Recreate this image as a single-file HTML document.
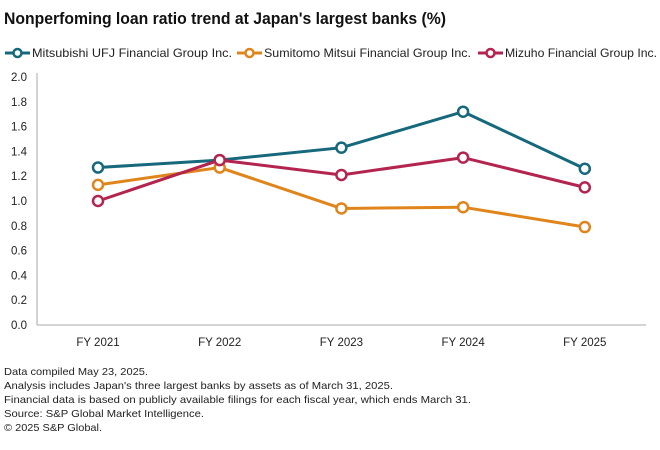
<!DOCTYPE html>
<html><head><meta charset="utf-8"><style>
body{margin:0;background:#fff;}
svg{display:block;font-family:"Liberation Sans",sans-serif;}
</style></head><body>
<svg id="chart" width="660" height="450" viewBox="0 0 660 450">
<text x="4" y="24" font-size="17" font-weight="bold" fill="#111" textLength="442" lengthAdjust="spacingAndGlyphs">Nonperfoming loan ratio trend at Japan's largest banks (%)</text>
<g id="legend"></g>
<g id="axes"></g>
<g id="series"></g>
<g font-size="10.5" fill="#222">
<text x="4" y="375" textLength="144" lengthAdjust="spacingAndGlyphs">Data compiled May 23, 2025.</text>
<text x="4" y="389" textLength="389" lengthAdjust="spacingAndGlyphs">Analysis includes Japan's three largest banks by assets as of March 31, 2025.</text>
<text x="4" y="403" textLength="467" lengthAdjust="spacingAndGlyphs">Financial data is based on publicly available filings for each fiscal year, which ends March 31.</text>
<text x="4" y="417" textLength="200" lengthAdjust="spacingAndGlyphs">Source: S&amp;P Global Market Intelligence.</text>
<text x="4" y="431" textLength="98" lengthAdjust="spacingAndGlyphs">© 2025 S&amp;P Global.</text>
</g>
</svg>
<script>
const categories = ["FY 2021","FY 2022","FY 2023","FY 2024","FY 2025"];
const mufg = [1.27, 1.33, 1.43, 1.72, 1.26];
const smfg = [1.13, 1.27, 0.94, 0.95, 0.79];
const mizuho = [1.00, 1.33, 1.21, 1.35, 1.11];
const yTicks = [0.0,0.2,0.4,0.6,0.8,1.0,1.2,1.4,1.6,1.8,2.0];
const seriesNames = ["Mitsubishi UFJ Financial Group Inc.","Sumitomo Mitsui Financial Group Inc.","Mizuho Financial Group Inc."];

const NS="http://www.w3.org/2000/svg";
const colors=["#16687c","#e0851c","#b3244f"];
const x0=98, dx=121.7, yBase=325, yTop=77;
const xS=i=>x0+i*dx;
const yS=v=>yBase-(v/2)*(yBase-yTop);
function mk(tag,attrs,parent){const e=document.createElementNS(NS,tag);for(const k in attrs)e.setAttribute(k,attrs[k]);parent.appendChild(e);return e;}
const axes=document.getElementById('axes');
let l=mk('line',{x1:37,x2:37,y1:yTop-4,y2:yBase,stroke:'#aaa','stroke-width':1},axes);


l=mk('line',{x1:37,x2:646,y1:yBase,y2:yBase,stroke:'#aaa','stroke-width':1},axes);


yTicks.forEach(v=>{const t=mk('text',{x:27,y:yS(v)+4,'font-size':11.5,'text-anchor':'end',fill:'#222'},axes);t.textContent=v.toFixed(1);

});
categories.forEach((c,i)=>{const t=mk('text',{x:xS(i),y:346,'font-size':11.5,'text-anchor':'middle',fill:'#222'},axes);t.textContent=c;

});
const ser=document.getElementById('series');
[mufg,smfg,mizuho].forEach((d,s)=>{
 const g=mk('g',{},ser);
 
 
 const p=mk('polyline',{points:d.map((v,i)=>xS(i)+','+yS(v)).join(' '),fill:'none',stroke:colors[s],'stroke-width':3},g);
 
 
 d.forEach((v,i)=>{const c=mk('circle',{cx:xS(i),cy:yS(v),r:5,fill:'#fff',stroke:colors[s],'stroke-width':2.5},g);
 
 });
});
const leg=document.getElementById('legend');
const lx=[5,237,478], lw=[200,207,152];
seriesNames.forEach((n,s)=>{
 const g=mk('g',{},leg);
 
 
 mk('line',{x1:lx[s],x2:lx[s]+25,y1:53,y2:53,stroke:colors[s],'stroke-width':3},g);
 mk('circle',{cx:lx[s]+12.5,cy:53,r:4,fill:'#fff',stroke:colors[s],'stroke-width':2.5},g);
 const t=mk('text',{x:lx[s]+27,y:57,'font-size':12,fill:'#222',textLength:lw[s],lengthAdjust:'spacingAndGlyphs'},g);
 t.textContent=n;
});
</script>
</body></html>
